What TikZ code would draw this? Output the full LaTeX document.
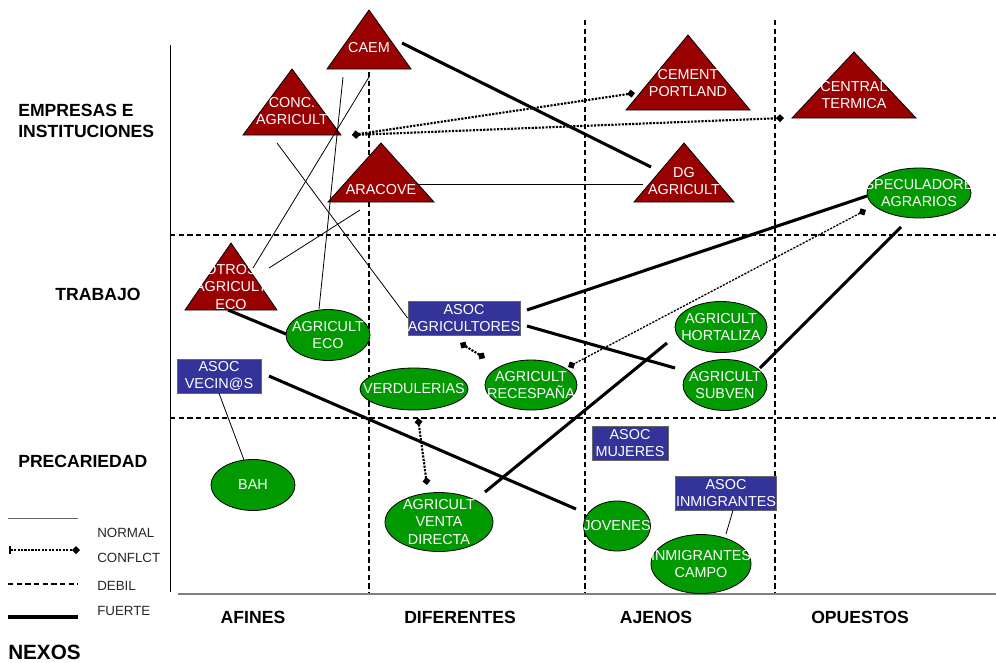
\documentclass[tikz,border=0pt]{standalone}
\usepackage{fontspec}
\setmainfont{Liberation Sans}
\usetikzlibrary{arrows.meta}
\usetikzlibrary{backgrounds}
\usetikzlibrary{calc}
\definecolor{trired}{RGB}{153,0,0}
\definecolor{eligreen}{RGB}{0,153,0}
\definecolor{asocblue}{RGB}{51,51,153}
\tikzset{
  txt/.style={text=white, font=\fontsize{10.8}{13}\selectfont, align=center, inner sep=0.75pt},
  asoc/.style={draw=black!60, fill=asocblue, text=white, font=\fontsize{10.8}{13}\selectfont, align=center, inner sep=0pt, minimum width=#1*0.75pt, minimum height=34*0.75pt},
  tri/.style={draw=black, fill=trired, line width=0.6pt},
  eli/.style={draw=black, fill=eligreen, line width=0.6pt},
  rejilla/.style={dash pattern=on 4pt off 2.5pt, line width=1pt},
  normal/.style={line width=0.6pt},
  fuerte/.style={line width=2.3pt},
  conflicto/.style={line width=1.6pt, densely dotted, {Diamond[length=6pt,width=6pt]}-{Diamond[length=6pt,width=6pt]}},
  fila/.style={font=\bfseries\fontsize{13.2}{16}\selectfont, align=left, inner sep=0pt},
  leyenda/.style={font=\fontsize{10}{12}\selectfont, text=black!85, inner sep=0pt, anchor=west},
}
\begin{document}
\begin{tikzpicture}[x=0.75pt,y=0.75pt,yscale=-1,xscale=1]
\useasboundingbox (0,0) rectangle (996,662);
% etiquetas de filas y columnas
\node[fila, anchor=west] (fila1) at (18,121) {EMPRESAS E\\INSTITUCIONES};
\node[fila] (fila2) at (98,294) {TRABAJO};
\node[fila, anchor=west] (fila3) at (18,461) {PRECARIEDAD};
\node[fila] (col1) at (253,617) {AFINES};
\node[fila] (col2) at (460,617) {DIFERENTES};
\node[fila] (col3) at (656,617) {AJENOS};
\node[fila] (col4) at (860,617) {OPUESTOS};
% leyenda
\draw[normal, black!60] (8,518) -- (78,518);
\draw[line width=1.6pt, densely dotted, {Bar[width=6pt]}-{Diamond[length=6pt,width=6pt]}] (9,550) -- (80,550);
\draw[rejilla] (8,584) -- (78,584);
\draw[line width=3pt] (8,617) -- (78,617);
\node[leyenda] (lnormal) at (97,533) {NORMAL};
\node[leyenda] (lconf) at (97,558) {CONFLCT};
\node[leyenda] (ldebil) at (97,586) {DEBIL};
\node[leyenda] (lfuerte) at (97,611) {FUERTE};
\node[anchor=west, inner sep=0pt, font=\bfseries\fontsize{15.5}{18}\selectfont] (nexos) at (8,652) {NEXOS};
% instituciones (triangulos)
\node[txt] (caem) at (369,48) {CAEM};
\node[txt] (conc) at (292,111) {CONC.\\AGRICULT};
\node[txt] (aracove) at (381,190) {ARACOVE};
\node[txt] (cement) at (688,83) {CEMENT\\PORTLAND};
\node[txt] (central) at (854,95) {CENTRAL\\TERMICA};
\node[txt] (dg) at (684,181) {DG\\AGRICULT};
\node[txt] (otros) at (231,287) {OTROS\\AGRICULT\\ECO};
% colectivos (elipses)
\node[txt] (agreco) at (328,335) {AGRICULT\\ECO};
\node[txt] (espec) at (919,193) {ESPECULADORES\\AGRARIOS};
\node[txt] (horta) at (721,327) {AGRICULT\\HORTALIZA};
\node[txt] (subven) at (725,385) {AGRICULT\\SUBVEN};
\node[txt] (verdu) at (414,389) {VERDULERIAS};
\node[txt] (reces) at (531,385) {AGRICULT\\RECESPAÑA};
\node[txt] (bah) at (253,485) {BAH};
\node[txt] (venta) at (439,522) {AGRICULT\\VENTA\\DIRECTA};
\node[txt] (jovenes) at (617,526) {JOVENES};
\node[txt] (inmcampo) at (701,564) {INMIGRANTES\\CAMPO};
% asociaciones
\node[asoc=109] (asocagr) at (464,318) {ASOC\\AGRICULTORES};
\node[asoc=84] (asocvec) at (219,376) {ASOC\\VECIN@S};
\node[asoc=76] (asocmuj) at (630,443) {ASOC\\MUJERES};
\node[asoc=101] (asocinm) at (726,493) {ASOC\\INMIGRANTES};
\begin{scope}[on background layer]
% ejes y rejilla
\draw[normal] (170,45) -- (170,592);
\draw[black!50, line width=1.3pt] (178,594) -- (996,594);
\foreach \x in {369,585,775} \draw[rejilla] (\x,20) -- (\x,593);
\foreach \y in {235,418} \draw[rejilla] (170,\y) -- (996,\y);
% formas
\draw[tri] ($(caem)+(0,-38)$) -- ++(42,59) -- ++(-84,0) -- cycle;
\draw[tri] ($(conc)+(0,-42)$) -- ++(49,66) -- ++(-98,0) -- cycle;
\draw[tri] ($(aracove)+(0,-47)$) -- ++(53,59) -- ++(-106,0) -- cycle;
\draw[tri] ($(cement)+(0,-48)$) -- ++(62,75) -- ++(-124,0) -- cycle;
\draw[tri] ($(central)+(0,-43)$) -- ++(62,66) -- ++(-124,0) -- cycle;
\draw[tri] ($(dg)+(0,-38)$) -- ++(50,59) -- ++(-100,0) -- cycle;
\draw[tri] ($(otros)+(0,-44)$) -- ++(46,67) -- ++(-92,0) -- cycle;
\draw[eli] (agreco) ellipse (42 and 25.5);
\draw[eli] (espec) ellipse (52 and 25);
\draw[eli] (horta) ellipse (46 and 25.5);
\draw[eli] (subven) ellipse (42 and 25.5);
\draw[eli] (verdu) ellipse (54 and 21);
\draw[eli] (reces) ellipse (46 and 25);
\draw[eli] (bah) ellipse (42 and 25.5);
\draw[eli] (venta) ellipse (54 and 29.5);
\draw[eli] (jovenes) ellipse (33.5 and 25);
\draw[eli] (inmcampo) ellipse (50 and 29.5);
\end{scope}
% nexos fuertes
\draw[fuerte] ($(caem)+(33,-5)$) -- ($(dg)+(-33,-14)$);
\draw[fuerte] ($(otros)+(-3,23)$) -- ($(agreco)+(-42,-1)$);
\draw[fuerte] ($(asocagr)+(63,-8)$) -- ($(espec)+(-52,3)$);
\draw[fuerte] ($(asocagr)+(63,8)$) -- ($(subven)+(-50,-17)$);
\draw[fuerte] ($(asocvec)+(50,0)$) -- ($(jovenes)+(-41,-17)$);
\draw[fuerte] ($(venta)+(46,-30)$) -- ($(horta)+(-54,16)$);
\draw[fuerte] ($(subven)+(35,-17)$) -- ($(espec)+(-18,34)$);
% nexos normales
\draw[normal] ($(caem)+(-26,29)$) -- ($(agreco)+(-9,-26)$);
\draw[normal] ($(caem)+(0,29)$) -- ($(otros)+(22,-19)$);
\draw[normal] ($(conc)+(-15,32)$) -- (asocagr.west);
\draw[normal] ($(aracove)+(-21,20)$) -- ($(otros)+(38,-19)$);
\draw[normal] ($(aracove)+(36,-6)$) -- ($(dg)+(-41,3)$);
\draw[normal] (asocvec.south) -- ($(bah)+(-9,-25)$);
\draw[normal] ($(asocinm.south)+(7,0)$) -- ($(inmcampo)+(25,-30)$);
% conflictos
\draw[conflicto] ($(conc)+(60,24)$) -- ($(cement)+(-53,10)$);
\draw[conflicto] ($(conc)+(60,24)$) -- ($(central)+(-70,23)$);
\draw[conflicto] ($(asocagr)+(-4,25)$) -- ($(reces)+(-46,-27)$);
\draw[conflicto] ($(verdu)+(4,29)$) -- ($(venta)+(-12,-37)$);
\draw[conflicto, line width=1pt] ($(espec)+(-53,17)$) -- ($(reces)+(37,-18)$);
\end{tikzpicture}
\end{document}
